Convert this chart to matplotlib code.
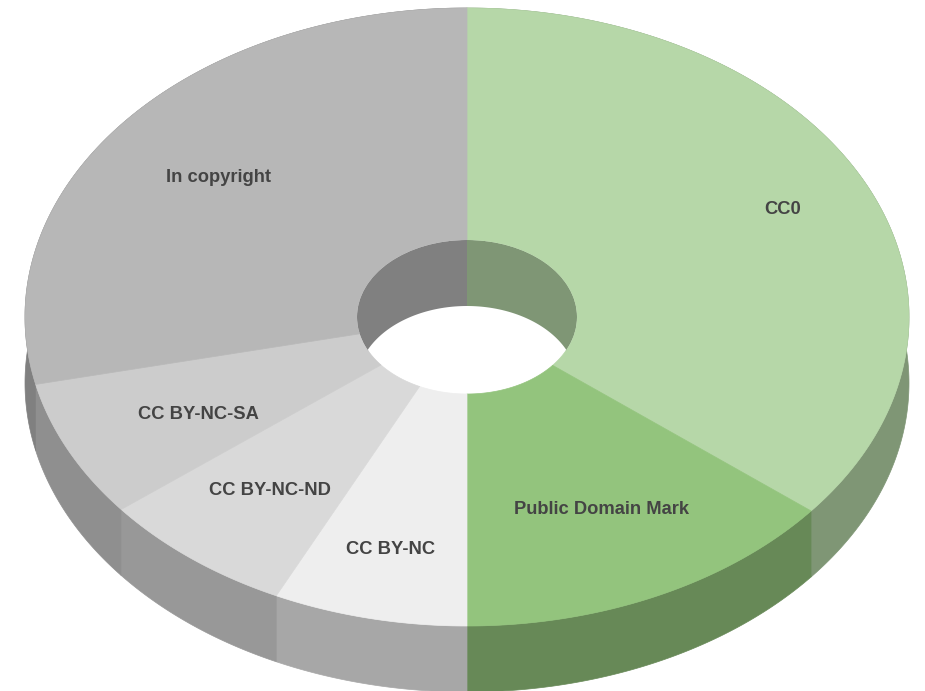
import numpy as np
import matplotlib
matplotlib.use('Agg')
import matplotlib.pyplot as plt
from matplotlib.patches import Ellipse

# Data, clockwise from 12 o'clock
labels = ['CC0', 'Public Domain Mark', 'CC BY-NC', 'CC BY-NC-ND', 'CC BY-NC-SA', 'In copyright']
values = [35.8, 14.2, 7.1, 7.2, 7.2, 28.5]

top_colors = ['#b6d7a8', '#93c47d', '#eeeeee', '#d9d9d9', '#cccccc', '#b7b7b7']
side_colors = ['#7f9675', '#678957', '#a7a7a7', '#989898', '#8f8f8f', '#808080']
label_xy = [(783, 209), (601, 510), (391, 550), (270, 490), (198, 414), (218, 177)]

# Geometry of the tilted donut, in pixels
cx, cy = 467, 317
rx, ry = 442, 309
hole_rx, hole_ry = 110, 77
depth = 66


def arc(a0, a1, w, h, dy=0):
    # angles in degrees clockwise from the top
    t = np.radians(np.linspace(a0, a1, 200))
    return cx + w * np.sin(t), cy + dy - h * np.cos(t)


fig = plt.figure(figsize=(9.25, 6.91), dpi=100)
ax = fig.add_axes([0, 0, 1, 1])
ax.set_xlim(0, 925)
ax.set_ylim(691, 0)
ax.axis('off')

edges = np.concatenate([[0], np.cumsum(values)]) / np.sum(values) * 360

# Outer wall
for i in range(len(values)):
    x1, y1 = arc(edges[i], edges[i + 1], rx, ry)
    x2, y2 = arc(edges[i + 1], edges[i], rx, ry, depth)
    ax.fill(np.r_[x1, x2], np.r_[y1, y2], color=side_colors[i], lw=0.5, zorder=1)

# Top face
for i in range(len(values)):
    x1, y1 = arc(edges[i], edges[i + 1], rx, ry)
    x2, y2 = arc(edges[i + 1], edges[i], hole_rx, hole_ry)
    ax.fill(np.r_[x1, x2], np.r_[y1, y2], color=top_colors[i], lw=0.5, zorder=2)

# Inner wall, only the far side shows through the hole
hole = Ellipse((cx, cy), 2 * hole_rx, 2 * hole_ry, transform=ax.transData)
for i, a0, a1 in [(0, 0, 116), (5, 244, 360)]:
    x1, y1 = arc(a0, a1, hole_rx, hole_ry)
    x2, y2 = arc(a1, a0, hole_rx, hole_ry, depth)
    poly = ax.fill(np.r_[x1, x2], np.r_[y1, y2], color=side_colors[i], lw=0, zorder=3)[0]
    poly.set_clip_path(hole)

# Labels
for name, (lx, ly) in zip(labels, label_xy):
    ax.text(lx, ly, name, ha='center', va='center', fontsize=13.2, fontweight='bold',
            family='Liberation Sans', color='#444444', zorder=4)

fig.savefig('out.png', dpi=100, facecolor='white')
